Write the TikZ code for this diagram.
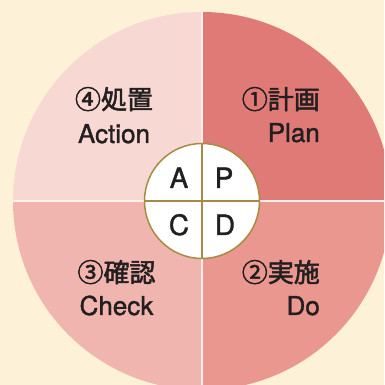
\documentclass[tikz,border=0pt]{standalone}
\usepackage{fontspec}
\setmainfont{TeX Gyre Heros}[FakeBold=1.3]
\newfontfamily\cjk{Noto Sans CJK JP}[FakeBold=2]
\definecolor{bgc}{RGB}{253,242,216}
\definecolor{qplan}{RGB}{224,122,118}
\definecolor{qdo}{RGB}{233,151,143}
\definecolor{qcheck}{RGB}{239,181,174}
\definecolor{qact}{RGB}{247,216,210}
\definecolor{sepc}{RGB}{253,240,236}
\definecolor{goldc}{RGB}{168,139,66}
\definecolor{txt}{RGB}{35,31,32}
\tikzset{
  quad/.style={draw=none},
  sepline/.style={draw=sepc, line width=1.3pt},
  hub/.style={circle, minimum size=115pt, inner sep=0pt, fill=white, draw=goldc, line width=1.5pt},
  cross/.style={draw=goldc, line width=1.5pt},
  letter/.style={inner sep=0pt, anchor=base, text=txt, font=\fontsize{28}{28}\selectfont},
  jlab/.style={inner sep=0pt, text=txt, font=\fontsize{26}{26}\selectfont\cjk},
  elab/.style={inner sep=0pt, text=txt, font=\fontsize{26}{26}\selectfont}
}
\begin{document}
\begin{tikzpicture}[x=1pt,y=1pt]
\useasboundingbox (0,0) rectangle (384,385);
\clip (0,0) rectangle (384,385);
\fill[bgc] (0,0) rectangle (384,385);
\coordinate (O) at (202,184);
\fill[qplan] (O) -- ++(0,189) arc[start angle=90, end angle=0, radius=189] -- cycle;
\fill[qdo] (O) -- ++(189,0) arc[start angle=0, end angle=-90, radius=189] -- cycle;
\fill[qcheck] (O) -- ++(0,-189) arc[start angle=270, end angle=180, radius=189] -- cycle;
\fill[qact] (O) -- ++(-189,0) arc[start angle=180, end angle=90, radius=189] -- cycle;
\draw[sepline] (O) ++(-189,0) -- ++(378,0);
\draw[sepline] (O) ++(0,-189) -- ++(0,378);
\node[hub] (hub) at (O) {};
\draw[cross] (hub.north) -- (hub.south);
\draw[cross] (hub.west) -- (hub.east);
\node[letter] (lA) at (179,197) {A};
\node[letter] (lP) at (224,197) {P};
\node[letter] (lC) at (179,150) {C};
\node[letter] (lD) at (225,150) {D};
\node[jlab, anchor=base east] (plan1) at (320,276) {①計画};
\node[elab, anchor=base east] (plan2) at (320,243) {Plan};
\node[jlab, anchor=base] (act1) at (114,276) {④処置};
\node[elab, anchor=base] (act2) at (114,242) {Action};
\node[jlab, anchor=base] (chk1) at (116.5,103) {③確認};
\node[elab, anchor=base] (chk2) at (116.5,70) {Check};
\node[jlab, anchor=base east] (do1) at (320,103) {②実施};
\node[elab, anchor=base east] (do2) at (320,70) {Do};
\end{tikzpicture}
\end{document}
